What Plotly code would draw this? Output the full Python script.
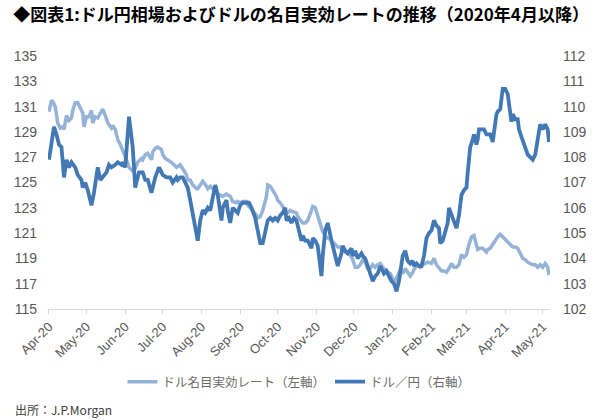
import pandas as pd
import plotly.graph_objects as go

START = "2020-04-01"

# USD/JPY (right axis): day offsets from START and values
usdjpy_day = [0, 4, 6, 8, 10, 12, 14, 16, 18, 21, 23, 26, 27, 29, 31, 34, 36, 39, 41, 43,
              46, 48, 50, 53, 55, 58, 59, 61, 63, 64, 67, 69, 72, 75, 77, 79, 82, 85, 88, 91,
              94, 97, 99,
              102, 103, 105, 107, 110, 111, 113, 116, 118, 119, 121, 123, 125, 127, 129, 131, 133, 135, 137, 138,
              139, 142, 143, 145, 147, 149, 151, 153, 155, 158, 160, 162, 165, 167, 169, 171, 173, 175, 177, 179,
              181, 183, 185, 187, 189, 190, 192, 194, 196, 198, 200,
              202, 203, 205, 207, 210, 211, 213, 215, 217, 218, 219, 221, 223, 224, 226, 228, 230, 231, 234, 235,
              237, 239, 242, 243, 245, 247, 250, 251, 253, 255, 257, 259, 261, 263, 265, 267, 268, 270, 272, 274,
              276, 278, 280, 282, 283, 285, 287, 289, 291, 292, 294, 296,
              298, 300, 302, 304, 306, 308, 310, 312, 313, 315, 317, 319, 320, 322, 324, 326, 328, 330, 332, 334,
              335, 337, 339, 340, 342, 343, 344, 346, 348, 350, 351, 353, 355, 356, 358, 359, 361, 363, 365, 367,
              368, 370, 371, 373, 375, 376, 378, 380, 382, 383, 385, 387, 389, 391, 392, 393, 395, 397, 399, 400]
usdjpy = [107.9, 109.2, 108.9, 108.5, 108.4, 107.2, 107.9, 107.6, 107.8, 107.6, 107.3, 107.1, 106.8, 107.0, 106.7, 106.1, 106.6, 107.6, 107.1, 107.2,
          107.4, 107.7, 107.6, 107.7, 107.8, 107.7, 107.8, 107.6, 109.1, 109.6, 108.4, 106.8, 107.4, 107.4, 107.1, 107.1, 106.6, 107.2, 107.6, 107.3,
          107.2, 107.2, 107.0,
          107.2, 107.1, 107.2, 107.2, 106.9, 106.8, 106.3, 105.5, 104.9, 104.7, 105.5, 105.9, 105.8, 106.0, 105.9, 106.4, 106.9, 106.5, 105.9, 105.5,
          106.0, 106.3, 105.9, 105.4, 106.0, 105.9, 105.8, 106.1, 106.2, 106.2, 106.2, 106.0, 105.6, 105.1, 104.6, 104.6, 105.1, 105.5, 105.6, 105.5,
          105.6, 105.5, 105.7, 105.8, 106.0, 105.5, 105.6, 105.4, 105.6, 105.5, 105.1,
          104.7, 104.9, 104.7, 104.7, 104.4, 104.8, 104.7, 104.5, 103.7, 103.3, 104.1, 105.1, 105.4, 105.1, 104.7, 104.3, 103.9, 103.7, 104.2, 104.5,
          104.3, 104.2, 104.4, 104.1, 104.3, 104.0, 104.2, 104.1, 104.0, 103.7, 103.5, 103.1, 103.3, 103.4, 103.7, 103.5, 103.4, 103.5, 103.3, 103.1,
          103.0, 102.7, 103.1, 103.7, 104.1, 104.3, 103.9, 103.8, 103.9, 103.7, 103.8, 103.7,
          103.7, 104.1, 104.8, 105.0, 105.1, 105.5, 105.3, 105.2, 104.6, 104.7, 105.1, 105.4, 106.0, 105.7, 105.4, 105.2, 105.7, 106.5, 106.7, 106.8,
          107.4, 108.4, 108.7, 108.9, 108.5, 108.7, 109.1, 109.1, 109.1, 108.9, 108.9, 108.9, 108.6, 109.0, 109.7, 109.8, 109.9, 110.7, 110.7, 110.5,
          110.1, 109.4, 109.7, 109.5, 109.5, 109.1, 108.8, 108.5, 108.2, 108.1, 108.0, 107.9, 108.1, 108.7, 108.9, 109.3, 109.1, 109.3, 109.1, 108.6]

# Dollar nominal effective rate (left axis)
neer_day = [0, 2, 3, 5, 7, 9, 11, 12, 14, 16, 18, 19, 21, 23, 25, 27, 28, 30, 32, 34,
            35, 37, 39, 42, 43, 45, 47, 50, 51, 53, 55, 57, 59, 60, 62, 64, 66, 67, 69, 71,
            74, 75, 77, 79, 82, 83, 85, 87, 90, 91, 93, 95, 98, 100,
            102, 105, 107, 110, 111, 113, 115, 118, 119, 121, 123, 126, 127, 129, 131, 134, 135, 137, 139, 142,
            143, 145, 147, 150, 151, 153, 155, 158, 159, 161, 163, 166, 167, 169, 171, 174, 175, 177, 179, 182,
            183, 185, 187, 190, 191, 193, 195, 198,
            199, 202, 203, 205, 207, 210, 211, 213, 215, 217, 219, 221, 223, 225, 227, 229, 231, 233, 235, 237,
            239, 241, 243, 245, 247, 249, 251, 253, 255, 257, 259, 261, 263, 265, 267, 269, 271, 273, 275, 277,
            279, 281, 283, 285, 287, 289, 291, 293, 295, 297, 299,
            301, 303, 306, 308, 310, 312, 314, 316, 318, 320, 322, 324, 326, 328, 330, 332, 334, 336, 338, 340,
            342, 343, 345, 347, 350, 351, 353, 355, 358, 359, 361, 363, 365, 367, 369, 371, 373, 375, 377, 379,
            381, 383, 385, 387, 389, 391, 393, 395, 397, 399, 400]
neer = [130.6, 131.5, 131.4, 131.0, 129.7, 129.3, 129.4, 129.2, 130.3, 129.9, 130.1, 130.7, 131.3, 131.3, 130.9, 130.5, 129.4, 130.2, 130.2, 130.7,
        129.7, 130.2, 130.1, 130.6, 130.8, 130.3, 129.7, 129.3, 129.5, 129.2, 128.4, 128.0, 127.6, 127.3, 126.8, 126.2, 126.0, 125.9, 126.1, 126.6,
        126.9, 126.8, 127.2, 127.3, 126.8, 127.4, 127.7, 127.8, 127.6, 127.2, 126.9, 126.8, 126.6, 126.4,
        126.2, 126.4, 126.1, 125.6, 125.2, 125.2, 124.8, 124.5, 124.5, 124.8, 125.1, 124.7, 124.5, 124.7, 124.5, 124.3, 124.1, 124.0, 123.9, 124.1,
        124.0, 123.9, 123.5, 123.4, 123.5, 123.4, 123.5, 123.5, 123.2, 123.0, 122.8, 122.4, 122.2, 122.3, 122.8, 123.9, 124.8, 124.7, 124.4, 123.9,
        123.6, 123.4, 123.1, 122.6, 122.6, 122.8, 122.7, 122.6,
        122.3, 121.9, 121.8, 121.8, 122.0, 122.8, 123.1, 123.0, 122.4, 121.6, 121.1, 120.8, 120.6, 120.5, 120.3, 120.1, 119.9, 119.9, 119.7, 119.5,
        119.4, 119.3, 118.9, 118.3, 118.3, 118.5, 118.9, 118.7, 118.2, 118.2, 118.5, 118.3, 118.5, 118.6, 118.3, 118.1, 117.9, 117.8, 117.4, 117.2,
        117.6, 118.1, 117.8, 118.2, 117.9, 117.6, 117.9, 118.3, 118.5, 118.3, 118.5,
        118.6, 118.7, 118.6, 119.0, 118.5, 118.2, 118.0, 118.0, 117.9, 118.2, 118.6, 118.3, 118.3, 118.5, 119.3, 119.1, 119.3, 120.1, 120.7, 120.8,
        120.2, 119.7, 119.8, 119.8, 119.5, 119.7, 119.8, 120.1, 120.6, 120.7, 120.9, 120.7, 120.5, 120.3, 120.1, 119.9, 119.9, 119.8, 119.4, 119.0,
        118.9, 118.7, 118.6, 118.5, 118.5, 118.3, 118.5, 118.3, 118.6, 118.3, 117.7]

left_ticks = [115, 117, 119, 121, 123, 125, 127, 129, 131, 133, 135]
right_ticks = [102, 103, 104, 105, 106, 107, 108, 109, 110, 111, 112]

TITLE = "◆図表1:ドル円相場およびドルの名目実効レートの推移（2020年4月以降）"
NAME_NEER = "ドル名目実効レート（左軸）"
NAME_JPY = "ドル／円（右軸）"
SOURCE = "出所：J.P.Morgan"

start = pd.Timestamp(START)
x_jpy = start + pd.to_timedelta(usdjpy_day, unit="D")
x_neer = start + pd.to_timedelta(neer_day, unit="D")

LIGHT = "#95b3d7"
DARK = "#4279b5"
GRAY = "#595959"
TICKFAM = "Liberation Sans Narrow, Arial Narrow, Liberation Sans, Arial"
TICKFONT = dict(family=TICKFAM, size=14, color=GRAY)

fig = go.Figure()
fig.add_trace(go.Scatter(x=x_neer, y=neer, name=NAME_NEER, mode="lines",
                         line=dict(color=LIGHT, width=3.5), yaxis="y"))
fig.add_trace(go.Scatter(x=x_jpy, y=usdjpy, name=NAME_JPY, mode="lines",
                         line=dict(color=DARK, width=3.8), yaxis="y2"))

fig.update_layout(
    width=600, height=420,
    margin=dict(l=48, r=50, t=56, b=111),
    paper_bgcolor="white", plot_bgcolor="white",
    showlegend=True,
    legend=dict(orientation="h", x=0.5, xanchor="center", y=-(382 - 309) / 253, yanchor="middle",
                font=dict(family="Noto Sans CJK JP", size=12.5, color="#6b6b6b"),
                itemwidth=30, bgcolor="rgba(0,0,0,0)"),
    title=dict(text="<b>" + TITLE + "</b>", xref="container", x=0.022, xanchor="left",
               yref="container", y=1 - 15 / 420, yanchor="middle",
               font=dict(family="Noto Sans CJK JP", size=17, color="#000000")),
    xaxis=dict(type="date", range=["2020-03-31 05:00", "2021-05-06 20:00"],
               tickmode="linear", tick0="2020-04-01", dtick="M1", tickformat="%b-%y",
               tickangle=-45, tickfont=dict(family=TICKFAM, size=13, color=GRAY),
               showgrid=False, zeroline=False, showline=True, linecolor="#d9d9d9", linewidth=1,
               ticks="outside", ticklen=4, tickcolor="#d9d9d9"),
    yaxis=dict(range=[115, 135], tickvals=left_ticks, showgrid=False, zeroline=False,
               showline=False, ticks="", tickfont=TICKFONT, ticklabelstandoff=10),
    yaxis2=dict(range=[102, 112], tickvals=right_ticks, overlaying="y", side="right",
                showgrid=False, zeroline=False, showline=False, ticks="",
                tickfont=TICKFONT, ticklabelstandoff=12),
)

fig.add_annotation(text=SOURCE, xref="paper", yref="paper", x=(13 - 48) / 502, y=-(409 - 309) / 253,
                   xanchor="left", yanchor="middle", showarrow=False,
                   font=dict(family="Noto Sans CJK JP", size=12, color="#404040"))

fig.write_html("out.html", config={"displayModeBar": False},
               post_script="document.body.style.margin='0';")
